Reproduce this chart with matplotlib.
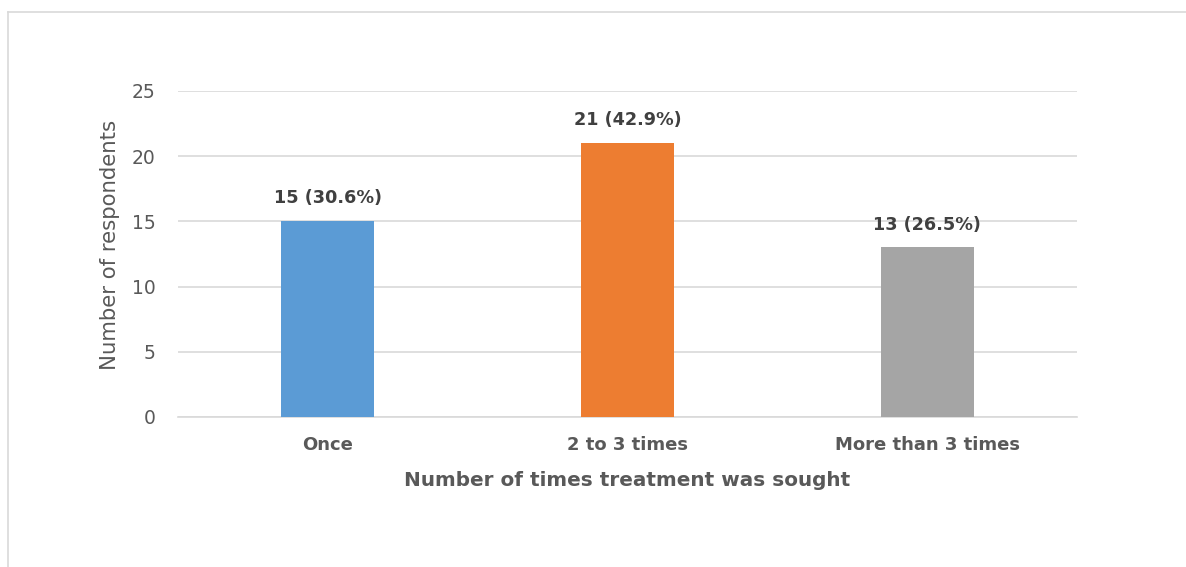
import matplotlib.pyplot as plt
from matplotlib.lines import Line2D

categories = ['Once', '2 to 3 times', 'More than 3 times']
counts = [15, 21, 13]
percents = [30.6, 42.9, 26.5]
colors = ['#5B9BD5', '#ED7D31', '#A5A5A5']
yticks = [0, 5, 10, 15, 20, 25]

plt.rcParams['font.family'] = ['DejaVu Sans']

fig = plt.figure(figsize=(11.86, 5.67), dpi=100)
ax = fig.add_axes([0.1501, 0.2646, 0.758, 0.575])

x = range(len(categories))
bars = ax.bar(x, counts, width=0.31, color=colors, zorder=3)

for b, c, p in zip(bars, counts, percents):
    ax.annotate(f'{c} ({p}%)', (b.get_x() + b.get_width() / 2, c),
                xytext=(0, 10), textcoords='offset points',
                ha='center', va='bottom', fontsize=12.7, fontweight='bold',
                color='#404040')

ax.set_xlim(-0.5, 2.5)
ax.set_ylim(0, 25)
ax.set_yticks(yticks)
ax.set_xticks(list(x))
ax.set_xticklabels(categories, fontsize=13, fontweight='bold', color='#595959')
ax.tick_params(axis='y', labelsize=13.5, labelcolor='#595959', length=0, pad=16)
ax.tick_params(axis='x', length=0, pad=14)
ax.grid(axis='y', color='#D9D9D9', linewidth=1.2, zorder=0)
for s in ['top', 'right', 'left']:
    ax.spines[s].set_visible(False)
ax.spines['bottom'].set_color('#D9D9D9')
ax.spines['bottom'].set_linewidth(1.2)

ax.set_xlabel('Number of times treatment was sought', fontsize=14.4,
              fontweight='bold', color='#595959', labelpad=12)
ax.set_ylabel('Number of respondents', fontsize=15.3, color='#595959',
              labelpad=9, y=0.527)

# outer frame (top and left edges)
fig.add_artist(Line2D([8 / 1186, 1], [1 - 12 / 567, 1 - 12 / 567],
                      color='#D9D9D9', linewidth=1.2))
fig.add_artist(Line2D([8 / 1186, 8 / 1186], [0, 1 - 12 / 567],
                      color='#D9D9D9', linewidth=1.2))

fig.savefig('out.png', dpi=100)
